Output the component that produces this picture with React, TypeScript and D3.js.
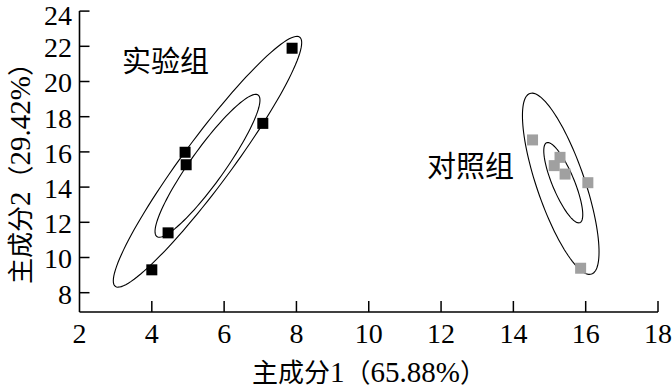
import React from "react";
import * as d3 from "d3";

// 实验组 points (PC1, PC2)
const expX = [4.0, 4.45, 4.92, 4.95, 7.07, 7.88];
const expY = [9.3, 11.4, 15.98, 15.27, 17.62, 21.89];

// 对照组 points
const ctlX = [14.53, 15.13, 15.29, 15.43, 16.06, 15.86];
const ctlY = [16.68, 15.22, 15.69, 14.74, 14.25, 9.39];

// confidence ellipses: centre + two semi-axis vectors, data units
const ellipseCx = [5.54, 5.54, 15.31, 15.38];
const ellipseCy = [15.44, 15.21, 14.19, 14.25];
const ellipseUx = [2.55, 1.4, 0.853, 0.46];
const ellipseUy = [7.08, 4.02, -5.13, -2.27];
const ellipseVx = [0.534, 0.382, 0.628, 0.281];
const ellipseVy = [-0.81, -0.563, 0.44, 0.24];

const xTicks = [2, 4, 6, 8, 10, 12, 14, 16, 18];
const yTicks = [8, 10, 12, 14, 16, 18, 20, 22, 24];

const groupNames = ["实验组", "对照组"];
// axis titles split into CJK / latin pieces so the digits can be sized like the original
const xTitle = ["主成分", "1", "（", "65.88%", "）"];
const yTitle = ["主成分", "2", "（", "29.42%", "）"];

const W = 672;
const H = 389;
const serif = "'Liberation Serif', 'Times New Roman', 'Noto Sans CJK SC', serif";

const Title: React.FC<{ parts: string[] }> = ({ parts }) => (
  <>
    {parts.map((p, i) => (
      <tspan key={i} fontSize={i % 2 === 1 ? 29 : 26}>
        {p}
      </tspan>
    ))}
  </>
);

const App: React.FC = () => {
  const x = d3.scaleLinear().domain([2, 18]).range([79.5, 658]);
  const y = d3.scaleLinear().domain([8, 24]).range([292.7, 11.1]);
  const y0 = y.invert(312);

  const line = d3
    .line<[number, number]>()
    .x((d) => x(d[0]))
    .y((d) => y(d[1]))
    .curve(d3.curveLinearClosed);

  const ellipses = ellipseCx.map((cx, i) => {
    const pts: [number, number][] = d3.range(0, 120).map((k) => {
      const t = (k / 120) * Math.PI * 2;
      return [
        cx + Math.cos(t) * ellipseUx[i] + Math.sin(t) * ellipseVx[i],
        ellipseCy[i] + Math.cos(t) * ellipseUy[i] + Math.sin(t) * ellipseVy[i],
      ];
    });
    return line(pts) || "";
  });

  const sq = 11;

  return (
    <svg
      width={W}
      height={H}
      style={{ position: "absolute", left: 0, top: 0, background: "#fff" }}
    >
      {ellipses.map((p, i) => (
        <path key={i} d={p} fill="none" stroke="#000" strokeWidth={1.1} />
      ))}

      {expX.map((v, i) => (
        <rect
          key={"e" + i}
          x={x(v) - sq / 2}
          y={y(expY[i]) - sq / 2}
          width={sq}
          height={sq}
          fill="#000"
        />
      ))}
      {ctlX.map((v, i) => (
        <rect
          key={"c" + i}
          x={x(v) - sq / 2}
          y={y(ctlY[i]) - sq / 2}
          width={sq}
          height={sq}
          fill="#a0a0a0"
        />
      ))}

      {/* axes */}
      <line x1={x(2)} x2={x(18)} y1={y(y0)} y2={y(y0)} stroke="#000" strokeWidth={1.6} />
      <line x1={x(2)} x2={x(2)} y1={y(y0)} y2={y(24)} stroke="#000" strokeWidth={1.6} />

      {xTicks.map((t) => (
        <g key={"xt" + t}>
          {t !== 2 && (
            <line x1={x(t)} x2={x(t)} y1={y(y0)} y2={y(y0) - 11} stroke="#000" strokeWidth={1.5} />
          )}
          <text
            x={x(t)}
            y={343}
            textAnchor="middle"
            fontFamily={serif}
            fontSize={28}
          >
            {t}
          </text>
        </g>
      ))}

      {yTicks.map((t) => (
        <g key={"yt" + t}>
          <line x1={x(2)} x2={x(2) + 10} y1={y(t)} y2={y(t)} stroke="#000" strokeWidth={1.5} />
          <text
            x={72}
            y={Math.max(y(t) + 1, 15)}
            dy="0.35em"
            textAnchor="end"
            fontFamily={serif}
            fontSize={28}
          >
            {t}
          </text>
        </g>
      ))}

      <text x={369} y={382} textAnchor="middle" fontFamily={serif}>
        <Title parts={xTitle} />
      </text>
      <text
        transform="translate(30,167) rotate(-90)"
        textAnchor="middle"
        fontFamily={serif}
      >
        <Title parts={yTitle} />
      </text>

      <text x={122} y={72} fontFamily={serif} fontSize={29}>
        {groupNames[0]}
      </text>
      <text x={427} y={177} fontFamily={serif} fontSize={29}>
        {groupNames[1]}
      </text>
    </svg>
  );
};

export default App;
